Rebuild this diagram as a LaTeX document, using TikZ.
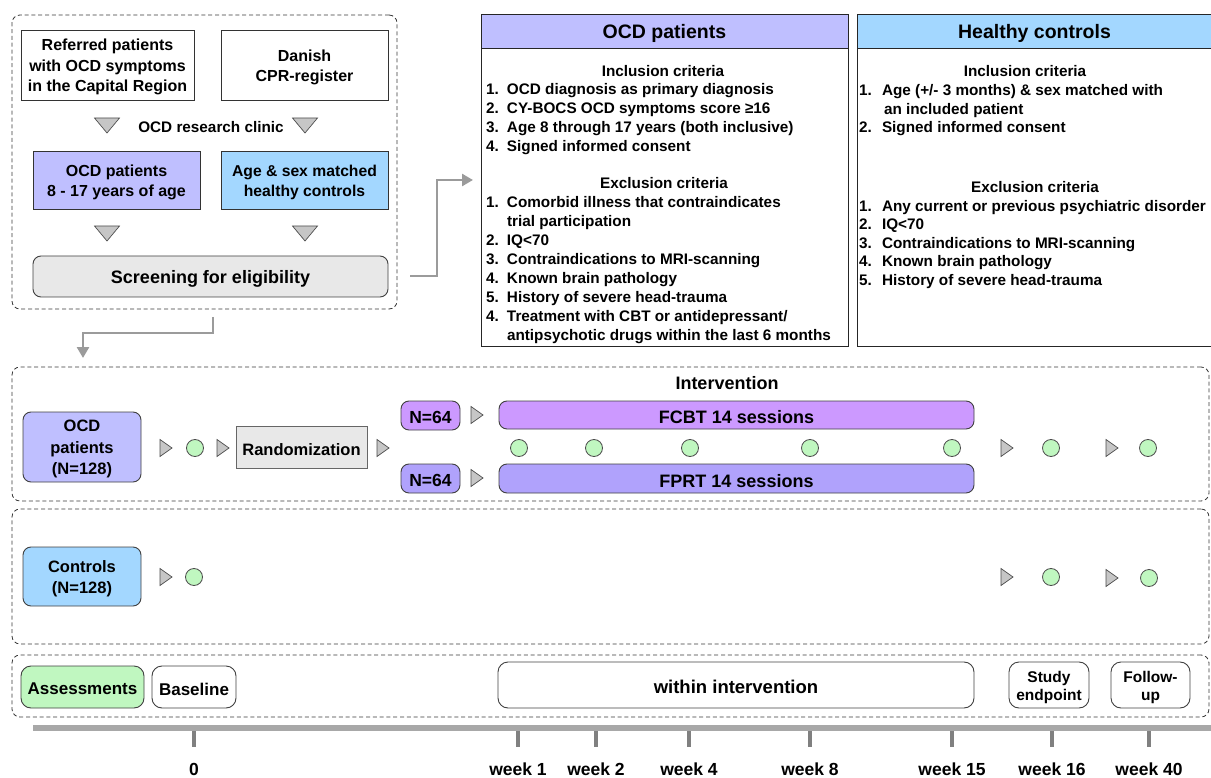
\documentclass[tikz,border=0pt]{standalone}
\usepackage{fontspec}
\setmainfont{Liberation Sans}
\usetikzlibrary{arrows.meta}
\newcommand{\fsz}[2]{\fontsize{#1}{#2}\selectfont}
% \bx[style]{name}{x1}{y1}{x2}{y2}{text}: a box filling the given rectangle,
% with its text set slightly below the geometric centre
\newcommand{\bx}[7][]{%
  \node[#1, minimum width={#5-#3}, minimum height={#6-#4}] (#2) at ({(#3+#5)/2},{(#4+#6)/2}) {};
  \node[#1, draw=none, fill=none, yshift=-2.2pt] (#2-t) at (#2.center) {#7};}

\definecolor{lav}{HTML}{BFBFFF}
\definecolor{skyb}{HTML}{A3D7FF}
\definecolor{purp}{HTML}{CC99FF}
\definecolor{violetb}{HTML}{B0A2FC}
\definecolor{mint}{HTML}{C0F7C0}
\definecolor{lgray}{HTML}{E8E8E8}
\definecolor{trig}{HTML}{C6C6C6}
\definecolor{connc}{HTML}{9B9B9B}
\definecolor{barc}{HTML}{A8A8A8}
\definecolor{tickc}{HTML}{808080}

\tikzset{
  every node/.style={inner sep=0pt, outer sep=0pt, font=\bfseries},
  frame/.style={draw=black!78, line width=0.85pt, dash pattern=on 4pt off 2.8pt, rounded corners=8pt},
  sqbox/.style={draw=black!80, line width=0.9pt, align=center},
  rbox/.style={draw=black!75, line width=0.9pt, rounded corners=8pt, align=center},
  rboxb/.style={draw=black!75, line width=0.9pt, rounded corners=10pt, align=center},
  critbox/.style={draw=black!85, line width=0.9pt},
  tri/.style={draw=black!70, fill=trig, line width=0.7pt, line join=miter},
  dot/.style={circle, draw=black!70, fill=mint, line width=0.8pt, minimum size=17pt},
  conn/.style={draw=connc, line width=2.6pt, line join=miter, -{Triangle[length=11pt, width=12pt]}},
  fcrit/.style={font=\bfseries\fsz{15.3}{19}},
  fcritb/.style={font=\bfseries\fsz{15.3}{18.5}},
  fbox/.style={font=\bfseries\fsz{16}{20.5}},
  fmid/.style={font=\bfseries\fsz{16.5}{21.5}},
  fbig/.style={font=\bfseries\fsz{18}{22}},
  fhead/.style={font=\bfseries\fsz{19.5}{22}},
  fsmall/.style={font=\bfseries\fsz{15.5}{18}},
  fweek/.style={font=\bfseries\fsz{17.5}{20}},
  dtri/.pic={\path[tri] (-12.5,-7.5) -- (12.5,-7.5) -- (0,7.5) -- cycle;},
  rtri/.pic={\path[tri] (-6,-8.5) -- (6,0) -- (-6,8.5) -- cycle;},
}

\begin{document}
\begin{tikzpicture}[x=1pt, y=-1pt]
\useasboundingbox (0,0) rectangle (1211,778);
\clip (0,0) rectangle (1211,778);

% ---------- recruitment ----------
\bx[frame]{topframe}{12}{15}{397}{309}{}
\bx[sqbox, fbox]{refer}{21}{30}{194}{100}{Referred patients\\with OCD symptoms\\in the Capital Region}
\bx[sqbox, fbox]{cpr}{221}{30}{388}{100}{Danish\\CPR-register}
\pic at (107,125.5) {dtri};
\pic at (305,125.5) {dtri};
\node[fcrit] (clinic) at (211,127.5) {OCD research clinic};
\bx[sqbox, fbox, fill=lav]{ocdgrp}{33}{151}{200}{209}{OCD patients\\8 - 17 years of age}
\bx[sqbox, fbox, fill=skyb, font=\bfseries\fsz{15.7}{20.5}]{hcgrp}{221}{151}{388}{209}{Age \& sex matched\\healthy controls}
\pic at (107,233.5) {dtri};
\pic at (305,233.5) {dtri};
\bx[rbox, fbig, fill=lgray]{screen}{33}{256}{388}{297}{Screening for eligibility}

% ---------- eligibility criteria ----------
\bx[critbox, fill=white]{ocdcrit}{481}{14}{848}{346}{}
\bx[critbox, fhead, fill=lav]{ocdhead}{481}{14}{848}{48}{OCD patients}
\node[fcrit, anchor=base] (ocdinh) at (663,77) {Inclusion criteria};
\node[fcrit, anchor=base west] (ocdinl) at (486,95) {\begin{tabular}[t]{@{}p{21pt}@{}l@{}}
1.&OCD diagnosis as primary diagnosis\\
2.&CY-BOCS OCD symptoms score ≥16\\
3.&Age 8 through 17 years (both inclusive)\\
4.&Signed informed consent
\end{tabular}};
\node[fcrit, anchor=base] (ocdexh) at (664,189) {Exclusion criteria};
\node[fcrit, anchor=base west] (ocdexl) at (486,208) {\begin{tabular}[t]{@{}p{21pt}@{}l@{}}
1.&Comorbid illness that contraindicates\\
&trial participation\\
2.&IQ<70\\
3.&Contraindications to MRI-scanning\\
4.&Known brain pathology\\
5.&History of severe head-trauma\\
4.&Treatment with CBT or antidepressant/\\
&antipsychotic drugs within the last 6 months
\end{tabular}};

\bx[critbox, fill=white]{hccrit}{857}{14}{1212}{346}{}
\bx[critbox, fhead, fill=skyb]{hchead}{857}{14}{1212}{48}{Healthy controls}
\node[fcritb, anchor=base] (hcinh) at (1025,77) {Inclusion criteria};
\node[fcritb, anchor=base west] (hcinl) at (859,96) {\begin{tabular}[t]{@{}p{23pt}@{}l@{}}
1.&Age (+/- 3 months) \& sex matched with\\
&\hspace{2pt}an included patient\\
2.&Signed informed consent
\end{tabular}};
\node[fcritb, anchor=base] (hcexh) at (1035,193) {Exclusion criteria};
\node[fcritb, anchor=base west] (hcexl) at (859,211.5) {\begin{tabular}[t]{@{}p{23pt}@{}l@{}}
1.&Any current or previous psychiatric disorder\\
2.&IQ<70\\
3.&Contraindications to MRI-scanning\\
4.&Known brain pathology\\
5.&History of severe head-trauma
\end{tabular}};

% ---------- flow connectors ----------
\coordinate (s1) at (410,276);
\draw[conn] (s1) -- ++(27,0) |- ([xshift=-8pt]ocdcrit.west);
\coordinate (s2) at (213,317);
\coordinate (s3) at (83,358);
\draw[conn] (s2) -- ++(0,16) -| (s3);

% ---------- patient arm ----------
\bx[frame]{ocdframe}{12}{367}{1209}{501}{}
\node[fbig] (interv) at (727,383) {Intervention};
\bx[rbox, fmid, fill=lav]{ocdarm}{23}{412}{141}{482}{OCD\\patients\\(N=128)}
\pic at (166,448) {rtri};
\node[dot] (pb) at (195,448) {};
\pic at (223,448) {rtri};
\bx[sqbox, fmid, draw=black!60, fill=lgray]{rand}{236}{426}{367}{468}{Randomization}
\pic at (383,448) {rtri};
\bx[rbox, font=\bfseries\fsz{17.5}{20}, fill=purp]{nA}{401}{401}{460}{430}{N=64}
\bx[rbox, font=\bfseries\fsz{17.5}{20}, fill=violetb]{nB}{401}{464}{460}{493}{N=64}
\pic at (477,415) {rtri};
\pic at (477,478) {rtri};
\bx[rbox, fbig, fill=purp]{fcbt}{499}{401}{974}{429}{FCBT 14 sessions}
\bx[rbox, fbig, fill=violetb]{fprt}{499}{464}{974}{493}{FPRT 14 sessions}
\foreach \x/\n in {519/pw1, 594/pw2, 690/pw4, 810/pw8, 952/pw15}
  \node[dot] (\n) at (\x,448) {};
\pic at (1007,448) {rtri};
\node[dot] (pw16) at (1051,448) {};
\pic at (1112,448) {rtri};
\node[dot] (pw40) at (1148,448) {};

% ---------- control arm ----------
\bx[frame]{hcframe}{12}{509}{1209}{644}{}
\bx[rbox, fmid, fill=skyb]{ctrl}{23}{547}{141}{606}{Controls\\(N=128)}
\pic at (166,577) {rtri};
\node[dot] (cb) at (194,577) {};
\pic at (1007,577) {rtri};
\node[dot] (cw16) at (1051,577) {};
\pic at (1112,578) {rtri};
\node[dot] (cw40) at (1149,578) {};

% ---------- assessments ----------
\bx[frame]{asframe}{12}{655}{1209}{717}{}
\bx[rboxb, font=\bfseries\fsz{17}{20}, fill=mint]{assess}{21}{666}{144}{708}{Assessments}
\bx[rboxb, font=\bfseries\fsz{17}{20}, fill=white]{basel}{152}{666}{236}{708}{Baseline}
\bx[rboxb, font=\bfseries\fsz{18.5}{21}]{within}{498}{662}{974}{708}{within intervention}
\bx[rboxb, fsmall]{endp}{1009}{662}{1089}{708}{Study\\endpoint}
\bx[rboxb, fsmall]{fup}{1111}{662}{1190}{708}{Follow-\\up}

% ---------- time axis ----------
\fill[barc] (33,725) rectangle (1211,731);
\foreach \x/\l/\n in {194/0/t0, 518/week 1/t1, 596/week 2/t2, 689/week 4/t4, 810/week 8/t8, 952/week 15/t15, 1052/week 16/t16, 1149/week 40/t40}{
  \draw[tickc, line width=4.5pt] (\x,731) -- (\x,747);
  \node[fweek, anchor=base] (\n) at (\x,775) {\l};
}
\end{tikzpicture}
\end{document}
